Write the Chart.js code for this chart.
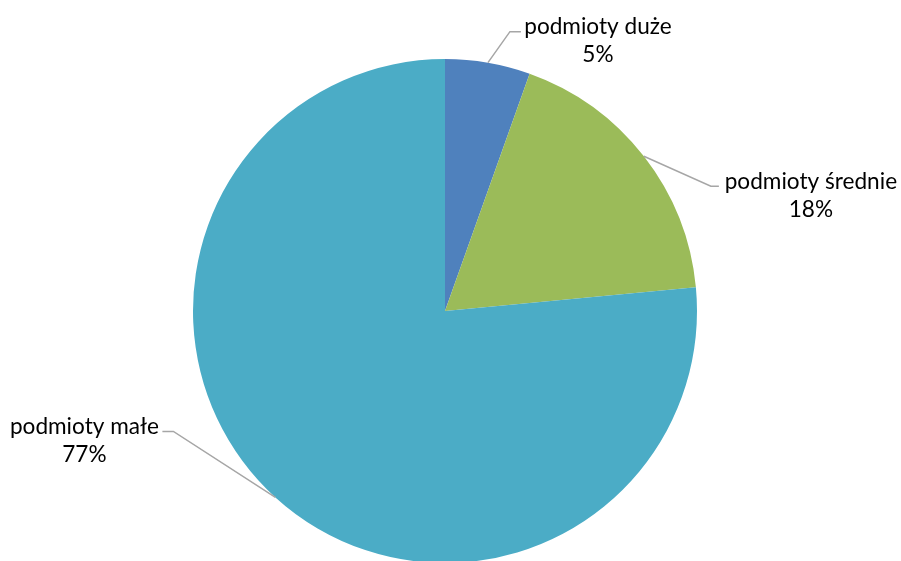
<!DOCTYPE html>
<html>
<head>
<meta charset="utf-8">
<script src="https://cdn.jsdelivr.net/npm/chart.js@4"></script>
<style>
  html, body { margin: 0; padding: 0; background: #fff; }
  #wrap { width: 901px; height: 561px; }
</style>
</head>
<body>
<div id="wrap"><canvas id="pieChart" width="901" height="561"></canvas></div>
<script>
// data
const categories = ["podmioty duże", "podmioty średnie", "podmioty małe"];
const shares = [5.45, 18.05, 76.5];
const shareLabels = ["5%", "18%", "77%"];
const sliceColors = ["#4F81BD", "#9BBB59", "#4BACC6"];

// where each leader line bends and where its text sits (relative to the slice edge)
const leaders = [
    { elbow: [22, -31], tail: 11, textDx: 77 },
    { elbow: [67, 30], tail: 8, textDx: 92 },
    { elbow: [-102, -66], tail: -11, textDx: -78 }
];

// draws the labels outside the pie, with a bent leader line
const outsideLabels = {
    id: "outsideLabels",
    afterDatasetsDraw(chart) {
        const ctx = chart.ctx;
        const meta = chart.getDatasetMeta(0);
        ctx.save();
        meta.data.forEach((arc, i) => {
            const p = arc.getProps(["x", "y", "startAngle", "endAngle", "outerRadius"], true);
            const mid = (p.startAngle + p.endAngle) / 2;
            const sx = p.x + Math.cos(mid) * p.outerRadius;
            const sy = p.y + Math.sin(mid) * p.outerRadius;
            const l = leaders[i];
            const ex = sx + l.elbow[0];
            const ey = sy + l.elbow[1];
            const tx = ex + l.tail;

            ctx.strokeStyle = "#A6A6A6";
            ctx.lineWidth = 1.5;
            ctx.beginPath();
            ctx.moveTo(sx, sy);
            ctx.lineTo(ex, ey);
            ctx.lineTo(tx, ey);
            ctx.stroke();

            ctx.fillStyle = "#000";
            ctx.font = "22.6px Lato";
            ctx.textAlign = "center";
            ctx.textBaseline = "middle";
            ctx.fillText(categories[i], tx + l.textDx, ey - 5);
            ctx.fillText(shareLabels[i], tx + l.textDx, ey + 23);
        });
        ctx.restore();
    }
};

const ctx = document.getElementById("pieChart").getContext("2d");
const chart = new Chart(ctx, {
    type: "pie",
    data: {
        labels: categories,
        datasets: [{
            data: shares,
            backgroundColor: sliceColors,
            borderWidth: 0,
            radius: 252
        }]
    },
    options: {
        responsive: false,
        animation: false,
        layout: { padding: { top: 61, bottom: 0, left: 0, right: 11 } },
        plugins: {
            legend: { display: false },
            tooltip: { enabled: false }
        }
    },
    plugins: [outsideLabels]
});
</script>
</body>
</html>
